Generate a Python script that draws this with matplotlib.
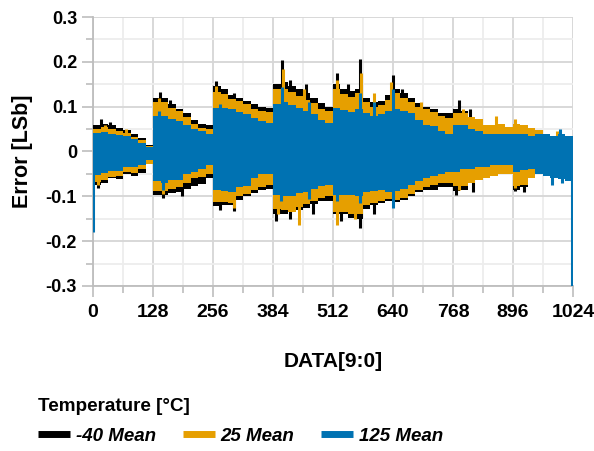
import numpy as np
import matplotlib.pyplot as plt
from matplotlib.ticker import MultipleLocator
import matplotlib.transforms as mtransforms

plt.rcParams['font.family'] = ['Liberation Sans', 'DejaVu Sans']

# Typical error envelope per 16-code bin, codes 0..1024
bin_w = 16
n_bins = 64

# -40 C
blk_hi = [0.06, 0.062, 0.06, 0.052, 0.048, 0.038, 0.03, 0.015,
          0.12, 0.12, 0.105, 0.095, 0.085, 0.07, 0.062, 0.06,
          0.145, 0.14, 0.125, 0.12, 0.113, 0.105, 0.1, 0.097,
          0.15, 0.155, 0.145, 0.14, 0.13, 0.12, 0.108, 0.1,
          0.15, 0.14, 0.135, 0.14, 0.12, 0.11, 0.112, 0.125,
          0.14, 0.13, 0.12, 0.108, 0.1, 0.095, 0.085, 0.085,
          0.095, 0.09, 0.078, 0.068, 0.058, 0.053, 0.045, 0.04,
          0.06, 0.06, 0.05, 0.045, 0.04, 0.035, 0.03, 0.03]
blk_lo = [-0.075, -0.07, -0.06, -0.062, -0.05, -0.055, -0.048, -0.025,
          -0.098, -0.097, -0.093, -0.09, -0.083, -0.078, -0.073, -0.06,
          -0.122, -0.12, -0.12, -0.108, -0.1, -0.093, -0.087, -0.083,
          -0.14, -0.14, -0.135, -0.13, -0.125, -0.118, -0.11, -0.11,
          -0.14, -0.14, -0.148, -0.15, -0.128, -0.12, -0.116, -0.11,
          -0.112, -0.108, -0.1, -0.09, -0.087, -0.085, -0.08, -0.08,
          -0.088, -0.085, -0.068, -0.055, -0.05, -0.047, -0.045, -0.045,
          -0.085, -0.08, -0.06, -0.045, -0.045, -0.04, -0.04, -0.04]

# 25 C
org_hi = [0.05, 0.054, 0.05, 0.045, 0.042, 0.032, 0.025, 0.012,
          0.11, 0.11, 0.097, 0.09, 0.078, 0.062, 0.052, 0.05,
          0.132, 0.128, 0.117, 0.112, 0.106, 0.095, 0.09, 0.087,
          0.14, 0.14, 0.132, 0.124, 0.115, 0.108, 0.095, 0.09,
          0.14, 0.128, 0.122, 0.13, 0.11, 0.1, 0.104, 0.115,
          0.13, 0.12, 0.11, 0.1, 0.094, 0.088, 0.08, 0.075,
          0.085, 0.085, 0.078, 0.072, 0.06, 0.06, 0.062, 0.055,
          0.062, 0.06, 0.052, 0.048, 0.04, 0.035, 0.03, 0.03]
org_lo = [-0.068, -0.063, -0.058, -0.055, -0.045, -0.048, -0.04, -0.028,
          -0.088, -0.088, -0.084, -0.08, -0.07, -0.06, -0.058, -0.05,
          -0.113, -0.113, -0.115, -0.1, -0.094, -0.085, -0.08, -0.075,
          -0.128, -0.13, -0.135, -0.123, -0.118, -0.11, -0.104, -0.1,
          -0.135, -0.135, -0.14, -0.14, -0.12, -0.114, -0.11, -0.105,
          -0.108, -0.104, -0.094, -0.085, -0.08, -0.075, -0.07, -0.07,
          -0.078, -0.076, -0.07, -0.064, -0.06, -0.055, -0.05, -0.05,
          -0.078, -0.074, -0.06, -0.05, -0.045, -0.045, -0.04, -0.04]

# 125 C
blu_hi = [0.042, 0.044, 0.04, 0.036, 0.034, 0.027, 0.02, 0.01,
          0.08, 0.08, 0.072, 0.067, 0.058, 0.05, 0.045, 0.04,
          0.097, 0.097, 0.094, 0.088, 0.083, 0.074, 0.067, 0.064,
          0.105, 0.11, 0.104, 0.098, 0.09, 0.084, 0.07, 0.064,
          0.098, 0.093, 0.088, 0.095, 0.085, 0.08, 0.084, 0.09,
          0.095, 0.09, 0.085, 0.07, 0.06, 0.057, 0.045, 0.04,
          0.06, 0.06, 0.05, 0.045, 0.04, 0.04, 0.04, 0.04,
          0.04, 0.04, 0.035, 0.04, 0.04, 0.035, 0.04, 0.035]
blu_lo = [-0.052, -0.048, -0.044, -0.043, -0.035, -0.035, -0.03, -0.02,
          -0.065, -0.07, -0.064, -0.063, -0.05, -0.045, -0.04, -0.03,
          -0.085, -0.088, -0.09, -0.08, -0.076, -0.06, -0.05, -0.05,
          -0.097, -0.1, -0.1, -0.093, -0.09, -0.084, -0.077, -0.075,
          -0.098, -0.098, -0.098, -0.1, -0.09, -0.088, -0.085, -0.09,
          -0.088, -0.083, -0.074, -0.065, -0.06, -0.055, -0.05, -0.045,
          -0.045, -0.04, -0.038, -0.035, -0.035, -0.03, -0.03, -0.03,
          -0.045, -0.042, -0.04, -0.05, -0.055, -0.06, -0.062, -0.066]

# single-code spikes standing out of the envelope (code, error)
blk_spk_code = [17, 36, 143, 165, 262, 300, 404, 420, 455, 520, 545, 570, 640, 660, 780, 805,
                10, 150, 190, 270, 300, 390, 420, 470, 530, 570, 600, 775, 810, 900, 920]
blk_spk_val = [0.073, 0.065, 0.132, 0.115, 0.158, 0.13, 0.203, 0.16, 0.15, 0.176, 0.15, 0.207,
               0.17, 0.14, 0.114, 0.095,
               -0.082, -0.104, -0.1, -0.13, -0.132, -0.155, -0.15, -0.14, -0.155, -0.17, -0.14,
               -0.098, -0.09, -0.088, -0.09]
org_spk_code = [25, 70, 140, 262, 406, 450, 520, 572, 600, 636, 700, 790, 860, 900, 990,
                10, 150, 300, 395, 440, 520, 560, 780, 900]
org_spk_val = [0.06, 0.05, 0.12, 0.145, 0.185, 0.14, 0.16, 0.176, 0.13, 0.155, 0.11, 0.095,
               0.08, 0.073, 0.045,
               -0.075, -0.095, -0.125, -0.14, -0.165, -0.165, -0.15, -0.085, -0.082]
blu_spk_code = [140, 270, 404, 460, 570, 600, 640, 996,
                0, 150, 400, 460, 520, 570, 640, 980, 1000, 1023]
blu_spk_val = [0.09, 0.105, 0.143, 0.11, 0.13, 0.11, 0.14, 0.05,
               -0.18, -0.085, -0.11, -0.105, -0.11, -0.115, -0.125, -0.075, -0.07, -0.3]

labels = ['-40 Mean', '25 Mean', '125 Mean']
colors = ['#000000', '#E69F00', '#0072B2']

fig = plt.figure(figsize=(5.94, 4.51), dpi=100)
ax = fig.add_axes([0.1566, 0.3659, 0.808, 0.5964])

edges = np.arange(n_bins + 1) * bin_w
series = [(blk_hi, blk_lo, blk_spk_code, blk_spk_val),
          (org_hi, org_lo, org_spk_code, org_spk_val),
          (blu_hi, blu_lo, blu_spk_code, blu_spk_val)]
for k, (hi, lo, sc, sv) in enumerate(series):
    c = colors[k]
    hi = np.append(hi, hi[-1])
    lo = np.append(lo, lo[-1])
    ax.fill_between(edges, lo, hi, step='post', color=c, lw=0, zorder=3 + k * 0.1)
    sc = np.clip(sc, 1, 1022)
    ax.vlines(sc, 0, sv, color=c, lw=2.2, zorder=3 + k * 0.1)
    ax.plot([], [], color=c, lw=5, solid_capstyle='butt', label=labels[k])

ax.set_xlim(0, 1024)
ax.set_ylim(-0.3, 0.3)
ax.xaxis.set_major_locator(MultipleLocator(128))
ax.xaxis.set_minor_locator(MultipleLocator(64))
ax.yaxis.set_minor_locator(MultipleLocator(0.05))
ax.set_yticks(np.arange(-0.3, 0.31, 0.1))
ax.set_yticklabels(['-0.3', '-0.2', '-0.1', '0', '0.1', '0.2', '0.3'])
ax.grid(True, which='major', color='#d6d6d6', lw=1.3, zorder=0)
ax.grid(True, which='minor', color='#ededed', lw=1.3, zorder=0)
ax.set_axisbelow(True)
for s in ax.spines.values():
    s.set_color('#bdbdbd')
    s.set_linewidth(1.3)
ax.spines['top'].set_visible(False)
ax.spines['right'].set_visible(False)
ax.tick_params(which='both', color='#bdbdbd', width=1.2)
ax.tick_params(which='major', length=8)
ax.tick_params(which='minor', length=5)
ax.tick_params(axis='y', labelsize=13)
ax.tick_params(axis='x', labelsize=14, pad=5)
for t in ax.get_xticklabels() + ax.get_yticklabels():
    t.set_fontweight('bold')
# last x label kept inside the figure
last = ax.get_xticklabels()[-1]
last.set_horizontalalignment('right')
last.set_transform(last.get_transform() +
                   mtransforms.ScaledTranslation(15 / 100, 0, fig.dpi_scale_trans))

ax.set_xlabel('DATA[9:0]', fontsize=15, fontweight='bold', labelpad=22)
ax.set_ylabel('Error [LSb]', fontsize=15.5, fontweight='bold', labelpad=9)

fig.legend(loc='upper left', bbox_to_anchor=(0.064, 0.118), ncol=3,
           frameon=False, title='Temperature [°C]', alignment='left',
           prop={'size': 13.5, 'weight': 'bold', 'style': 'italic'},
           title_fontproperties={'size': 13.6, 'weight': 'bold'},
           handlelength=1.7, handletextpad=0.3, columnspacing=1.45,
           borderaxespad=0, borderpad=0, labelspacing=0.68)

fig.savefig('out.png', dpi=100)
